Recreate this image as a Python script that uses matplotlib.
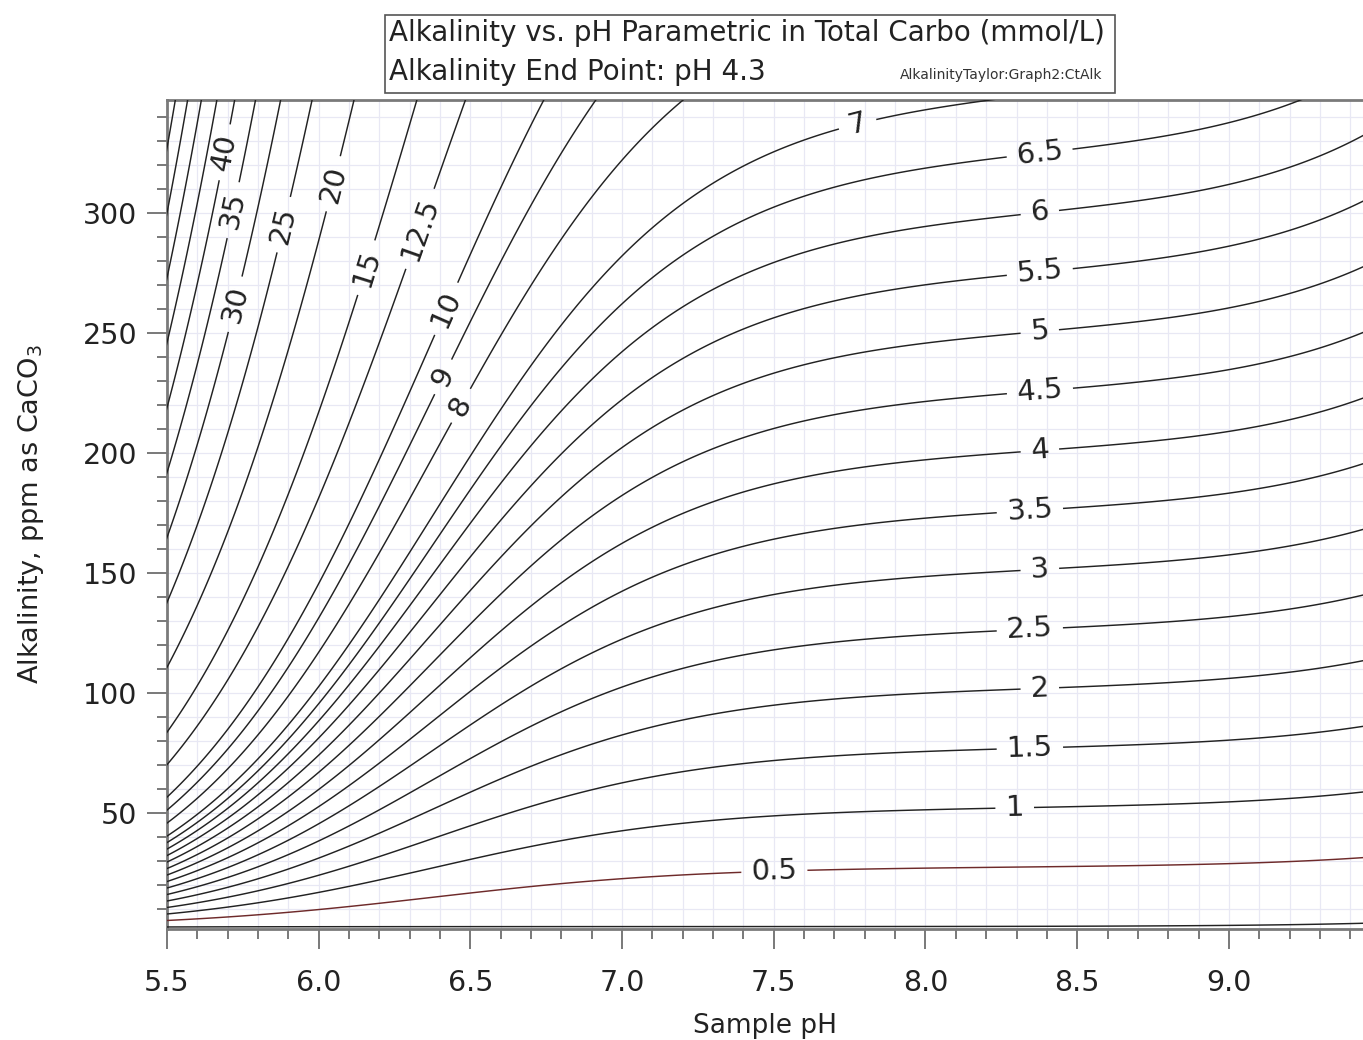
import numpy as np
import matplotlib
matplotlib.use("Agg")
import matplotlib.pyplot as plt
from matplotlib.ticker import MultipleLocator, FixedLocator
from matplotlib.patches import Rectangle

# ---------------- data ----------------
ct_levels_labelled = [0.5, 1, 1.5, 2, 2.5, 3, 3.5, 4, 4.5, 5, 5.5, 6, 6.5, 7,
                      8, 9, 10, 12.5, 15, 20, 25, 30, 35, 40]
ct_levels_plain = [0, 45, 50, 55, 60]
ct_label_fmt = {0.5: "0.5", 1: "1", 1.5: "1.5", 2: "2", 2.5: "2.5", 3: "3",
                3.5: "3.5", 4: "4", 4.5: "4.5", 5: "5", 5.5: "5.5", 6: "6",
                6.5: "6.5", 7: "7", 8: "8", 9: "9", 10: "10", 12.5: "12.5",
                15: "15", 20: "20", 25: "25", 30: "30", 35: "35", 40: "40"}
# carbonate system constants
pK1 = 6.38
pK2 = 10.38
pKw = 14.0
pH_endpoint = 4.3
ppm_per_meq = 50.0

x_ticks = [5.5, 6.0, 6.5, 7.0, 7.5, 8.0, 8.5, 9.0]
x_ticklabels = ["5.5", "6.0", "6.5", "7.0", "7.5", "8.0", "8.5", "9.0"]
y_ticks = [50, 100, 150, 200, 250, 300]
y_ticklabels = ["50", "100", "150", "200", "250", "300"]

title_line1 = "Alkalinity vs. pH Parametric in Total Carbo (mmol/L)"
title_line2 = "Alkalinity End Point: pH 4.3"
tag_text = "AlkalinityTaylor:Graph2:CtAlk"

# ---------------- layout (not data) ----------------
x_lim = (5.5, 9.442)
y_lim = (1.5, 347.0)
label_positions = [
    (5.698, 325), (5.721, 301), (5.721, 262), (5.886, 295), (6.051, 312),
    (6.16, 277), (6.341, 293), (6.42, 260), (6.42, 231), (6.463, 220),
    (7.776, 337), (8.377, 324), (8.377, 300), (8.377, 275), (8.377, 250),
    (8.377, 226), (8.377, 201), (8.344, 176), (8.377, 151), (8.344, 126),
    (8.377, 101), (8.344, 77), (8.294, 52), (7.502, 25),
]

# ---------------- field ----------------
def frac_alk(pH):
    h = 10.0 ** (-pH)
    k1 = 10.0 ** (-pK1)
    k2 = 10.0 ** (-pK2)
    d = h * h + k1 * h + k1 * k2
    a1 = k1 * h / d
    a2 = k1 * k2 / d
    return a1 + 2 * a2

def water(pH):  # [OH-] - [H+] in mmol/L
    return (10.0 ** (pH - pKw) - 10.0 ** (-pH)) * 1000.0

ph = np.linspace(5.40, 9.60, 900)
alk = np.linspace(0.0, 360.0, 900)
PH, ALK = np.meshgrid(ph, alk)
alk_meq = ALK / ppm_per_meq
CT = (alk_meq - water(PH) + water(pH_endpoint)) / (frac_alk(PH) - frac_alk(pH_endpoint))

# ---------------- figure ----------------
plt.rcParams['font.family'] = ['DejaVu Sans']
fig = plt.figure(figsize=(13.63, 10.4), dpi=100)
ax = fig.add_axes([167 / 1363, 111 / 1040, 1 - 167 / 1363, (929 - 100) / 1040])

ax.set_xlim(*x_lim)
ax.set_ylim(*y_lim)

ax.xaxis.set_major_locator(FixedLocator(x_ticks))
ax.set_xticklabels(x_ticklabels)
ax.xaxis.set_minor_locator(MultipleLocator(0.1))
ax.yaxis.set_major_locator(FixedLocator(y_ticks))
ax.set_yticklabels(y_ticklabels)
ax.yaxis.set_minor_locator(MultipleLocator(10))

ax.grid(which='both', color='#e8e8f4', linewidth=0.9, zorder=0)
ax.set_axisbelow(True)

tick_col = '#555555'
ax.tick_params(which='major', direction='out', length=14.5, width=1.1,
               color=tick_col, labelsize=20.5, pad=7, labelcolor='#222222')
ax.tick_params(which='minor', direction='out', length=7.5, width=1.1,
               color=tick_col)
ax.tick_params(axis='x', which='major', pad=14)

for s in ['left', 'bottom', 'top']:
    ax.spines[s].set_color('#7a7a7a')
    ax.spines[s].set_linewidth(2.0)
ax.spines['right'].set_visible(False)

ax.contour(PH, ALK, CT, levels=ct_levels_plain, colors='#222222',
           linewidths=1.05, zorder=3)
colors = ['#6e2a2a' if lv == 0.5 else '#222222' for lv in ct_levels_labelled]
cs = ax.contour(PH, ALK, CT, levels=ct_levels_labelled, colors=colors,
                linewidths=1.05, zorder=3)
labels = ax.clabel(cs, fmt=ct_label_fmt, fontsize=21, colors='#222222',
                   inline=True, inline_spacing=10, manual=label_positions)
for t in labels:
    t.set_color('#222222')

ax.set_xlabel("Sample pH", fontsize=19, color='#222222', labelpad=12)
ax.set_ylabel("Alkalinity, ppm as CaCO$_3$", fontsize=19.5, color='#222222',
              labelpad=26)

# title box
box = Rectangle((385 / 1363, 1 - 93 / 1040), (1115 - 385) / 1363, (93 - 15) / 1040,
                transform=fig.transFigure, facecolor='white', edgecolor='#555555',
                linewidth=1.2, zorder=5)
fig.patches.append(box)
fig.text(389 / 1363, 1 - 33 / 1040, title_line1, fontsize=20, va='center',
         ha='left', color='#222222', zorder=6)
fig.text(389 / 1363, 1 - 72 / 1040, title_line2, fontsize=20, va='center',
         ha='left', color='#222222', zorder=6)
fig.text(1102 / 1363, 1 - 75 / 1040, tag_text, fontsize=10, va='center',
         ha='right', color='#333333', zorder=6)

fig.savefig("out.png", dpi=100)
